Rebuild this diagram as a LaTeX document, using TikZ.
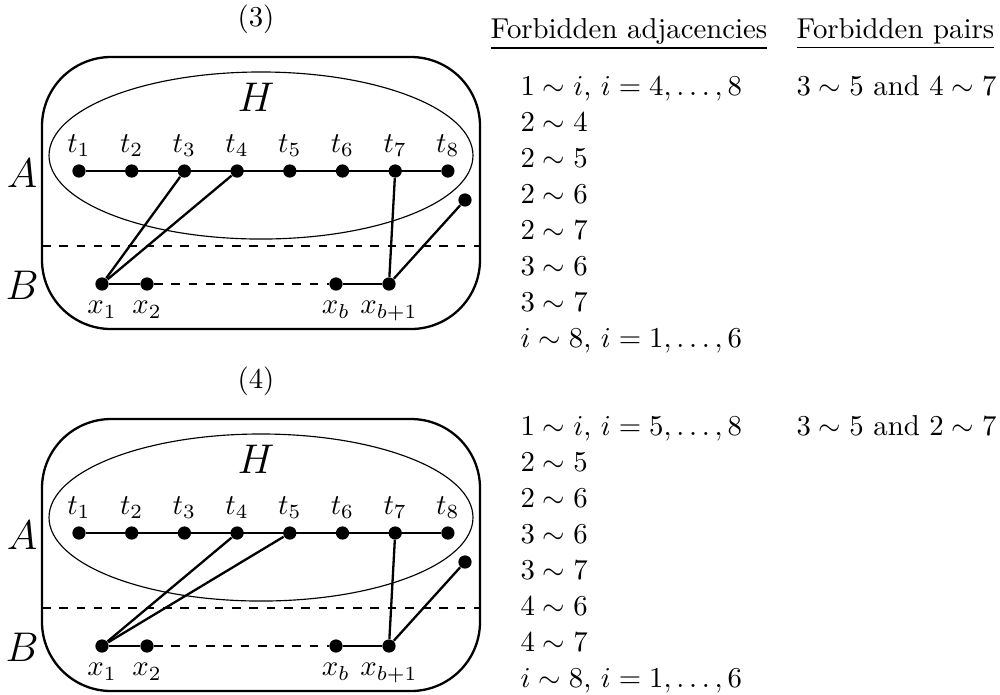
\documentclass[tikz,border=0pt]{standalone}
\tikzset{
  vertex/.style={circle, fill, inner sep=0pt, minimum size=4.6pt},
  txt/.style={anchor=base west, inner sep=0pt}
}
\begin{document}
\begin{tikzpicture}[x=0.3472pt, y=-0.3472pt]
  \useasboundingbox (0,0) rectangle (1000,694);

  % the two graphs (3) and (4)
  \foreach \k/\dy/\p/\q in {3/0/3/4, 4/362/4/5} {
    \begin{scope}[shift={(0,\dy)}]
      \node (lab\k) at (256,19) {(\k)};
      \draw[thick, rounded corners=24pt] (42,57) rectangle (480,329);
      \draw (261,155.5) ellipse [x radius=73.6pt, y radius=29pt];
      \draw[thick, dashed] (42,246) -- (480,246);
      \node (H\k) at (256,97) {\Large $H$};
      \node (A\k) at (22,173) {\Large $A$};
      \node (B\k) at (22,285) {\Large $B$};

      % t_1 ... t_8
      \foreach \i in {1,...,8}
        \node[vertex, label={[label distance=-1pt]above:$t_{\i}$}] (t\k-\i) at ({79+52.7*(\i-1)},171) {};
      \node[vertex] (s\k) at (465,200) {};

      % x_1 ... x_{b+1}
      \node[vertex, label=below:$x_1$] (x\k-1) at (102,284) {};
      \node[vertex, label=below:$x_2$] (x\k-2) at (147,284) {};
      \node[vertex, label=below:$x_b$] (xb\k) at (336,284) {};
      \node[vertex, label=below:$x_{b+1}$] (xc\k) at (389,284) {};

      \draw[thick] (t\k-1) -- (t\k-8);
      \draw[thick] (x\k-1) -- (x\k-2);
      \draw[dashed] (x\k-2) -- (xb\k);
      \draw[thick] (xb\k) -- (xc\k);
      \draw[thick] (x\k-1) -- (t\k-\p);
      \draw[thick] (x\k-1) -- (t\k-\q);
      \draw[thick] (xc\k) -- (t\k-7);
      \draw[thick] (xc\k) -- (s\k);
    \end{scope}
  }

  % headers
  \node[txt] (hadj) at (490,38) {\underline{Forbidden adjacencies}};
  \node[txt] (hpair) at (796,38) {\underline{Forbidden pairs}};

  % list for (3)
  \foreach \t [count=\n] in {{$1\sim i$, $i=4,\ldots,8$}, $2\sim4$, $2\sim5$, $2\sim6$,
      $2\sim7$, $3\sim6$, $3\sim7$, {$i\sim8$, $i=1,\ldots,6$}}
    \node[txt] (adjc\n) at (520,{95+36*(\n-1)}) {\t};
  \node[txt] (pairc) at (796,95) {$3\sim5$ and $4\sim7$};

  % list for (4)
  \foreach \t [count=\n] in {{$1\sim i$, $i=5,\ldots,8$}, $2\sim5$, $2\sim6$, $3\sim6$,
      $3\sim7$, $4\sim6$, $4\sim7$, {$i\sim8$, $i=1,\ldots,6$}}
    \node[txt] (adjd\n) at (520,{435+36*(\n-1)}) {\t};
  \node[txt] (paird) at (796,435) {$3\sim5$ and $2\sim7$};
\end{tikzpicture}
\end{document}
